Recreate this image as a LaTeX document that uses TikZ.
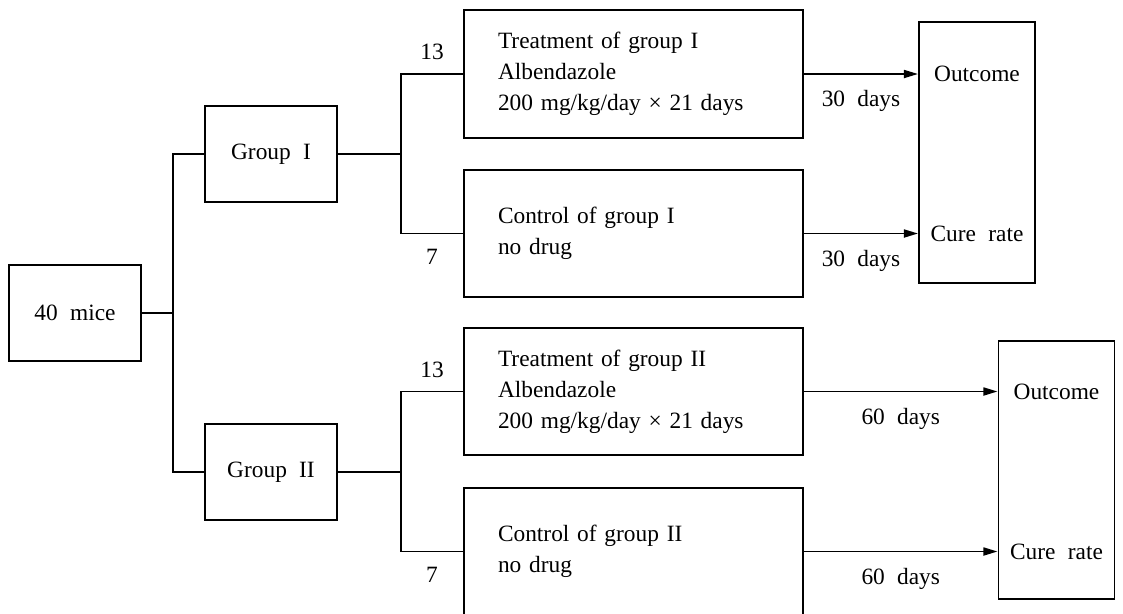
\documentclass[tikz,border=0pt]{standalone}
\usepackage{fontspec}
\setmainfont{Liberation Serif}[WordSpace=2.1]
\usetikzlibrary{arrows.meta}

\tikzset{
    box/.style={draw, line width=1.1pt, minimum width=2.64cm, minimum height=1.92cm},
    armbox/.style={draw, line width=1.1pt, text width=5.42cm, inner xsep=0.68cm, minimum height=2.55cm, align=left},
    endbox/.style={draw, line width=1.1pt, minimum width=2.32cm},
    link/.style={line width=1.1pt},
    arrow/.style={line width=1.1pt, -{Triangle[length=8pt,width=4.5pt]}}
}

\begin{document}
\begin{tikzpicture}[x=0.02cm, y=-0.02cm, font=\fontsize{13.3pt}{17.6pt}\selectfont]
    \useasboundingbox (0,0) rectangle (1123,613);
    \node[box] (mice) at (75,313) {40 mice};
    \node[box] (grpI) at (271,154) {Group I};
    \node[box] (grpII) at (271,472) {Group II};
    \node[armbox] (treatI) at (633.5,74) {Treatment of group I\\Albendazole\\200 mg/kg/day × 21 days};
    \node[armbox] (ctrlI) at (633.5,233.5) {Control of group I\\no drug};
    \node[armbox] (treatII) at (633.5,391.5) {Treatment of group II\\Albendazole\\200 mg/kg/day × 21 days};
    \node[armbox] (ctrlII) at (633.5,551.5) {Control of group II\\no drug};
    \node[endbox, minimum height=5.22cm] (outI) at (977,152.5) {};
    \node[endbox, minimum height=5.16cm] (outII) at (1056.5,470) {};
    \coordinate (split) at (173,313);
    \coordinate (splitI) at (401,154);
    \coordinate (splitII) at (401,472);
    \draw[link] (mice) -- (split);
    \draw[link] (grpI.west) -| (split) |- (grpII.west);
    \foreach \g/\d in {I/30, II/60} {
        \draw[link] (grp\g) -- (split\g);
        \draw[link] (treat\g.west) -- node[above=4pt] {13} (treat\g.west -| split\g)
            -- (ctrl\g.west -| split\g) -- node[below=5pt] {7} (ctrl\g.west);
        \draw[arrow] (treat\g.east) -- node[below=5.5pt] {\d\ days} (treat\g.east -| out\g.west);
        \draw[arrow] (ctrl\g.east) -- node[below=5.5pt] {\d\ days} (ctrl\g.east -| out\g.west);
        \node at (out\g |- treat\g) {Outcome};
        \node at (out\g |- ctrl\g) {Cure rate};
    }
\end{tikzpicture}
\end{document}
